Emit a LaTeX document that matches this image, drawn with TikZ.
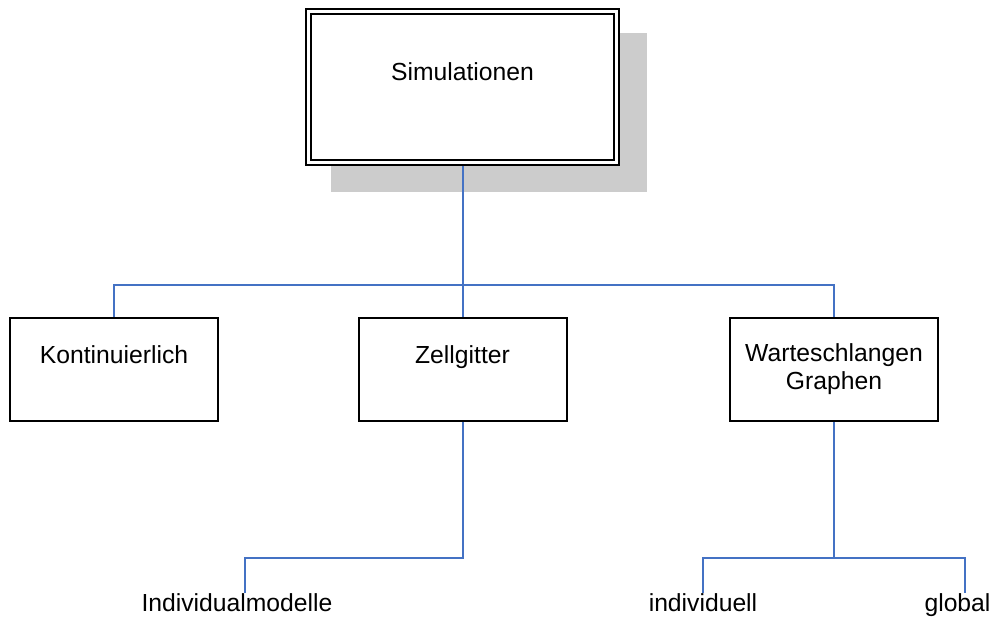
\documentclass[tikz,border=0pt]{standalone}
\usepackage{fontspec}
\setmainfont{Liberation Sans}
\definecolor{lblue}{RGB}{68,114,196}
\tikzset{
  box/.style={draw, line width=2pt, fill=white, minimum width=208pt, minimum height=103pt, inner sep=0pt},
  toptext/.style={text height=18pt, text depth=31pt},
  leaf/.style={anchor=base, inner sep=0pt},
  conn/.style={draw=lblue, line width=2pt}
}

\begin{document}
\begin{tikzpicture}[x=1pt, y=-1pt, font=\fontsize{24.7}{28}\selectfont]
    \useasboundingbox (0, 0) rectangle (996, 621);

    % shadow behind the root box
    \fill [black!20] (331, 33) rectangle (647, 192);

    \node [box, toptext, double=white, double distance=3pt, outer sep=3.5pt,
           minimum width=308pt, minimum height=151pt] (sim) at (462.5, 86.5) {Simulationen};

    \node [box, toptext] (kont) at (114, 369.5) {Kontinuierlich};
    \node [box, toptext] (zell) at (462.5, 369.5) {Zellgitter};
    \node [box, align=center] (warte) at (834, 369.5) {Warteschlangen\\Graphen};

    \node [leaf] (indmod) at (237, 611) {Individualmodelle};
    \node [leaf] (indiv) at (703, 611) {individuell};
    \node [leaf] (glob) at (957.5, 611) {global};

    \coordinate (bus) at (462.5, 285);
    \coordinate (zbus) at (462.5, 558);
    \coordinate (wbus) at (834, 558);

    \draw [conn] (sim.south) -- (bus);
    \draw [conn] (bus) -| (kont.north);
    \draw [conn] (bus) -- (zell.north);
    \draw [conn] (bus) -| (warte.north);

    \draw [conn] (zell.south) -- (zbus) -| ([xshift=8pt]indmod.north);

    \draw [conn] (warte.south) -- (wbus);
    \draw [conn] (wbus) -| (indiv.north);
    \draw [conn] (wbus) -| ([xshift=7.5pt]glob.north);
\end{tikzpicture}
\end{document}
